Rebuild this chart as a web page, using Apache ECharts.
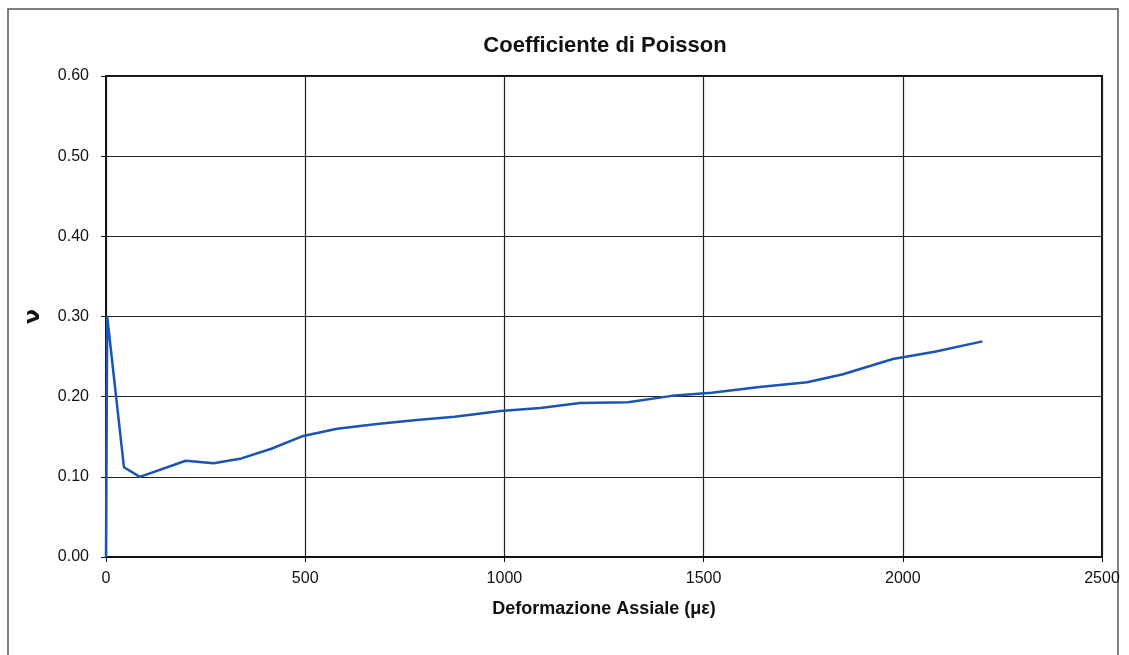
<!DOCTYPE html>
<html><head><meta charset="utf-8">
<script src="https://cdn.jsdelivr.net/npm/echarts@6/dist/echarts.min.js"></script>
<style>html,body{margin:0;padding:0;background:#fff}#c{width:1129px;height:655px}</style>
</head><body><div id="c"></div>
<script>
const strainX = [0, 3, 45, 85, 200, 270, 340, 415, 495, 580, 680, 780, 875, 990, 1090, 1190, 1310, 1420, 1520, 1640, 1760, 1850, 1975, 2080, 2200];
const poissonY = [0, 0.300, 0.112, 0.100, 0.120, 0.117, 0.123, 0.135, 0.151, 0.160, 0.166, 0.171, 0.175, 0.182, 0.186, 0.192, 0.193, 0.201, 0.205, 0.212, 0.218, 0.228, 0.247, 0.256, 0.269];
const titleText = 'Coefficiente di Poisson';
const xName = 'Deformazione Assiale (\u03bc\u03b5)';
const yName = '\u03bd';

const chart = echarts.init(document.getElementById('c'));
chart.setOption({
  animation: false,
  backgroundColor: '#fff',
  title: {text: titleText, left: 600, top: 30, textAlign: 'center',
    textStyle: {fontFamily: 'Liberation Sans', fontWeight: 'bold', fontSize: 22, color: '#111'}},
  grid: {left: 106, right: 27, top: 76, bottom: 98, show: true, borderColor: '#111', borderWidth: 2},
  xAxis: {type: 'value', min: 0, max: 2500, interval: 500,
    name: xName, nameLocation: 'middle', nameGap: 43,
    nameTextStyle: {fontFamily: 'Liberation Sans', fontWeight: 'bold', fontSize: 18, color: '#111'},
    axisLine: {show: true, lineStyle: {color: '#111', width: 2}},
    axisTick: {show: true, length: 5, lineStyle: {color: '#111'}},
    axisLabel: {fontFamily: 'Liberation Sans', fontSize: 16, color: '#111', margin: 14,
      formatter: v => String(v)},
    splitLine: {show: true, lineStyle: {color: '#222', width: 1.2}}},
  yAxis: {type: 'value', min: 0, max: 0.6, interval: 0.1,
    name: yName, nameLocation: 'middle', nameGap: 62, nameRotate: 90,
    nameTextStyle: {fontFamily: 'DejaVu Sans', fontWeight: 'bold', fontSize: 22, color: '#111'},
    axisLine: {show: true, lineStyle: {color: '#111', width: 2}},
    axisTick: {show: true, length: 5, lineStyle: {color: '#111'}},
    axisLabel: {fontFamily: 'Liberation Sans', fontSize: 16, color: '#111', margin: 17,
      formatter: v => v.toFixed(2)},
    splitLine: {show: true, lineStyle: {color: '#222', width: 1.2}}},
  series: [{type: 'line', data: strainX.map((x, i) => [x, poissonY[i]]),
    showSymbol: false, symbol: 'none',
    lineStyle: {color: '#1a55b5', width: 2.5}}],
  graphic: [
    {type: 'rect', shape: {x: 8, y: 9, width: 1110, height: 700},
      style: {fill: 'none', stroke: '#555', lineWidth: 1.5}, silent: true}
  ]
});
</script></body></html>
